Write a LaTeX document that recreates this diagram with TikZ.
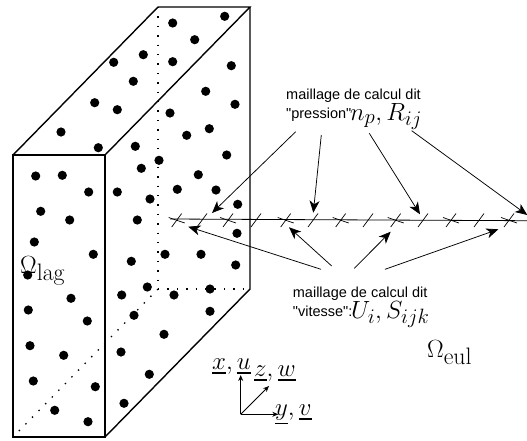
\documentclass[tikz,border=0pt]{standalone}
\usepackage{amsmath,amssymb}
\usepackage{fontspec}
\newfontfamily\labfont{Liberation Sans}
\usepackage{tikz}
\usetikzlibrary{arrows.meta}

\begin{document}
\begin{tikzpicture}[x=1pt, y=-1pt,
	every node/.style={inner sep=0pt},
	box/.style={line width=1.4pt, line join=miter},
	hidden/.style={line width=1.3pt, dash pattern=on 1.4pt off 8pt},
	part/.style={fill=black, circle, minimum size=9.2pt},
	to/.style={-{Stealth[length=12pt, width=10pt, inset=3.5pt]}, line width=0.75pt},
	axis/.style={-{Stealth[length=6pt, width=5pt]}, line width=0.75pt},
	tick/.style={line width=0.7pt},
	lab/.style={font=\labfont\fontsize{14.5}{19}\selectfont, align=left, anchor=west},
	big/.style={font=\fontsize{29}{34}\selectfont, anchor=base west},
	wide/.style={font=\fontsize{32}{36}\selectfont, anchor=base west},
	dom/.style={font=\fontsize{34}{38}\selectfont, anchor=base west},
	mid/.style={font=\fontsize{28.5}{32}\selectfont, anchor=base west}]
	\useasboundingbox (0,0) rectangle (527,440);
	% box corners
	\coordinate (fa) at (13,155);
	\coordinate (fb) at (105,155);
	\coordinate (fc) at (105,437);
	\coordinate (fd) at (13,437);
	\coordinate (ba) at (158,7);
	\coordinate (bb) at (250,7);
	\coordinate (bc) at (250,289);
	\coordinate (bd) at (158,289);
	\draw[hidden] (ba) -- (bd);
	\draw[hidden] (bd) -- (bc);
	\draw[hidden] (bd) -- (fd);
	\draw[box] (fa) -- (fb) -- (fc) -- (fd) -- cycle;
	\draw[box] (fa) -- (ba) -- (bb) -- (fb);
	\draw[box] (bb) -- (bc) -- (fc);
	% particles
	\foreach \px/\py in {172.7/23, 224.7/16.3, 194.7/39.7, 143.3/54.7, 113.7/62.3, 172.7/61.7, 231.3/65.7,
		133.3/81.3, 205.7/91.3, 94.7/102.7, 117.3/109.7, 235/104.3, 170/113, 209.3/128.7, 186.7/135.3,
		61/132, 98.3/147.7, 135.3/146.3, 226.7/155, 159/160.3, 141.3/168.3, 198.3/174.7, 35.7/176,
		62.3/175.3, 88.7/192, 117.3/192, 177.3/189.3, 216/190, 150/199, 237.7/204.3, 40.7/211.3,
		69.7/220, 137.3/220, 237/233.3, 34.3/242, 93.3/254.3, 165/254.3, 201/254.3, 131.3/261.3,
		235.7/265, 27.7/275, 147.3/287, 210/289, 121.7/295, 174/295, 71/298.3, 28.3/310, 210/311.3,
		134/315.3, 87.3/321, 164/334.3, 30/345.7, 121/352, 63.7/355.3, 149.3/374.3, 33.3/381,
		95.3/386.7, 124/403.3, 54.7/410.3, 88/421.7}
		\node[part] at (\px,\py) {};
	% mesh
	\coordinate (ml) at (170,219);
	\coordinate (mr) at (527,220.7);
	\draw[line width=0.8pt] (ml) -- (mr);
	\foreach \tx in {176.7,202,228,256,285.7,313,340.7,368,395.7,423,451,479,509}
		\draw[tick] (\tx-5,227) -- (\tx+5,213.5);
	\foreach \tx in {176.7,228,285.7,340.7,395.7,451,509}
		\draw[tick] (\tx-8,217.5) -- (\tx+8,223);
	% labels
	\node[lab] (press) at (286,105.5) {maillage de calcul dit\\"pression"};
	\node[lab] (vit) at (292.7,301.5) {maillage de calcul dit\\"vitesse":};
	\node[big] (np) at (350,120) {$n_p,R_{ij}$};
	\node[wide] (ui) at (351,318) {$U_i,S_{ijk}$};
	\node[dom] (olag) at (20,273) {$\Omega_{\text{lag}}$};
	\node[dom] (oeul) at (427,357) {$\Omega_{\text{eul}}$};
	\node[mid] (xu) at (212,369) {$\underline{x},\underline{u}$};
	\node[mid] (zw) at (254,376) {$\underline{z},\underline{w}$};
	\node[mid] (yv) at (275,415) {$\underline{y},\underline{v}$};
	% arrows
	\coordinate (p1) at (295.7,131.7);
	\coordinate (p2) at (321.3,135);
	\coordinate (p3) at (369.3,133.3);
	\coordinate (p4) at (411.7,130.7);
	\coordinate (h1) at (212,213);
	\coordinate (h2) at (313.3,212.7);
	\coordinate (h3) at (420,214.3);
	\coordinate (h4) at (527.3,215);
	\coordinate (v1) at (321,269.3);
	\coordinate (v2) at (331.7,266);
	\coordinate (v3) at (354.3,268.3);
	\coordinate (v4) at (385,269.3);
	\coordinate (t1) at (188.3,226.7);
	\coordinate (t2) at (289,227.3);
	\coordinate (t3) at (390.7,231.7);
	\coordinate (t4) at (498.3,229.3);
	\foreach \a/\b in {p1/h1,p2/h2,p3/h3,p4/h4,v1/t1,v2/t2,v3/t3,v4/t4}
		\draw[to] (\a) -- (\b);
	% axes
	\coordinate (o) at (240.7,414.3);
	\coordinate (ox) at (240.7,375);
	\coordinate (oy) at (278.3,414.3);
	\coordinate (oz) at (269,386);
	\draw[axis] (o) -- (ox);
	\draw[axis] (o) -- (oy);
	\draw[axis] (o) -- (oz);
\end{tikzpicture}
\end{document}
